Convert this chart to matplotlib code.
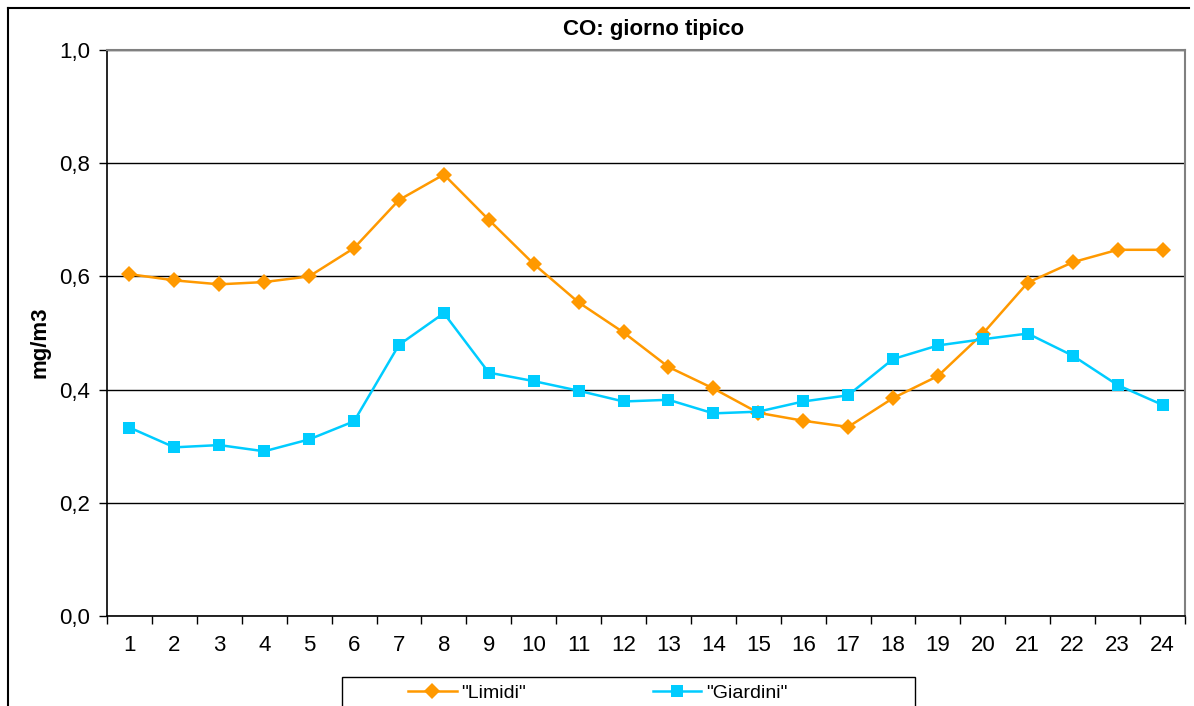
import numpy as np
import matplotlib
matplotlib.use("Agg")
import matplotlib.pyplot as plt
from matplotlib.lines import Line2D
from matplotlib.patches import Rectangle
from matplotlib.ticker import FuncFormatter, FixedLocator

plt.rcParams['font.family'] = ['Liberation Sans', 'DejaVu Sans']

# data
hours = list(range(1, 25))
limidi = [0.604, 0.593, 0.586, 0.590, 0.600, 0.650, 0.735, 0.780, 0.700, 0.622,
          0.554, 0.501, 0.440, 0.402, 0.359, 0.345, 0.334, 0.385, 0.424, 0.499,
          0.589, 0.625, 0.647, 0.647]
giardini = [0.333, 0.298, 0.302, 0.291, 0.312, 0.344, 0.479, 0.535, 0.430, 0.415,
            0.398, 0.379, 0.382, 0.358, 0.361, 0.379, 0.390, 0.454, 0.478, 0.489,
            0.499, 0.460, 0.408, 0.373]
series_names = ['"Limidi"', '"Giardini"']
title = "CO: giorno tipico"
ylabel = "mg/m3"

W, H = 1194, 706
fig = plt.figure(figsize=(W / 100, H / 100), dpi=100)
ax = fig.add_axes([107 / W, 1 - 616 / H, (1185 - 107) / W, (616 - 50) / H])

l1, = ax.plot(hours, limidi, color='#FF9900', lw=1.8, marker='D', ms=8.2,
              markeredgewidth=0)
l2, = ax.plot(hours, giardini, color='#00CCFF', lw=1.8, marker='s', ms=8.6,
              markeredgewidth=0)

ax.set_xlim(0.5, 24.5)
ax.set_ylim(0, 1.0)
ax.set_yticks([0, 0.2, 0.4, 0.6, 0.8, 1.0])
ax.yaxis.set_major_formatter(FuncFormatter(lambda v, p: f"{v:.1f}".replace('.', ',')))
ax.yaxis.grid(True, color='black', lw=1.0)
ax.set_axisbelow(True)

ax.set_xticks(hours)
ax.set_xticklabels([str(h) for h in hours])
ax.xaxis.set_minor_locator(FixedLocator(np.arange(0.5, 25, 1)))
ax.tick_params(axis='x', which='major', length=0, pad=14, labelsize=16)
ax.tick_params(axis='x', which='minor', length=6, width=1, direction='out')
ax.tick_params(axis='y', length=6, width=1, direction='out', pad=6, labelsize=16)

for s in ('top', 'right'):
    ax.spines[s].set_color('#808080')
    ax.spines[s].set_linewidth(1.5)
for s in ('left', 'bottom'):
    ax.spines[s].set_color('black')
    ax.spines[s].set_linewidth(1.2)

ax.set_ylabel(ylabel, fontsize=16, fontweight='bold')
ax.yaxis.set_label_coords(-56 / (1185 - 107), 0.484)
fig.text(654 / W, 1 - 30 / H, title, ha='center', va='center',
         fontsize=16, fontweight='bold')

# outer chart frame
fig.add_artist(Line2D([8 / W, 8 / W], [0, 1 - 8 / H], transform=fig.transFigure,
                      color='black', lw=1.5))
fig.add_artist(Line2D([8 / W, 1189 / W], [1 - 8 / H, 1 - 8 / H],
                      transform=fig.transFigure, color='black', lw=1.5))

# legend box
fig.add_artist(Rectangle((342 / W, -0.05), (915 - 342) / W, 0.05 + 1 - 677 / H,
                         transform=fig.transFigure, fill=False,
                         edgecolor='black', lw=1.0))
fig.legend([l1, l2], series_names, loc='center left', ncol=2,
           bbox_to_anchor=(408 / W, 1 - 693 / H), frameon=False,
           fontsize=14, borderpad=0, borderaxespad=0, handlelength=2.5,
           handletextpad=0.25, columnspacing=6.5, markerscale=1.0)

fig.savefig("out.png", dpi=100)
